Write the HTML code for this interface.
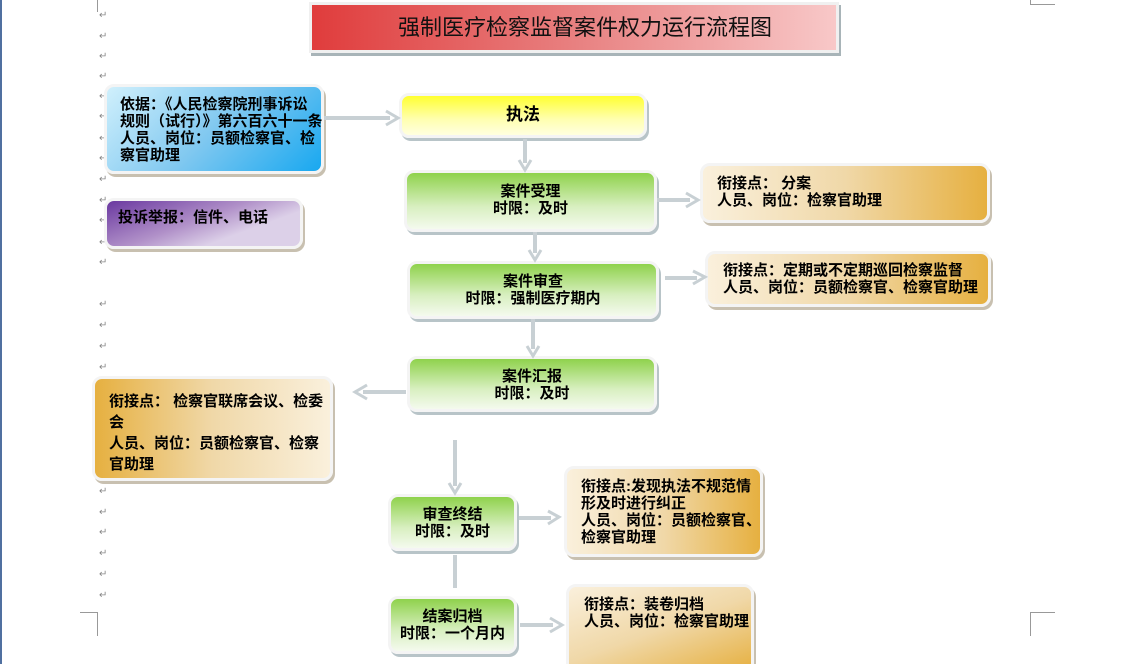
<!DOCTYPE html>
<html><head><meta charset="utf-8"><style>
html,body{margin:0;width:1125px;height:664px;overflow:hidden;}
body{background:#fff;position:relative;font-family:"Liberation Sans","Noto Sans CJK SC",sans-serif;}
.b{position:absolute;box-sizing:border-box;border:3px solid #f4f4f4;border-radius:10px;box-shadow:2px 3px 0 #c8c0b0;font-weight:bold;font-size:15px;line-height:17px;color:#000;white-space:nowrap;}
.g{background:linear-gradient(to bottom,#8fd24c,#d8efc0 60%,#f4faee);text-align:center;box-shadow:2px 3px 0 #b8c4c8;}
.t{background:linear-gradient(to right,#faf0dc,#f0d8a8 50%,#e6b040);}
.r{position:absolute;left:99px;font-size:10px;color:#888;}
</style></head><body>
<div style="position:absolute;left:0;top:0;width:2px;height:664px;background:#5070a0"></div>
<div style="position:absolute;left:97px;top:0;width:1px;height:12px;background:#999"></div>
<div style="position:absolute;left:80px;top:612px;width:17px;height:1px;background:#999"></div>
<div style="position:absolute;left:97px;top:612px;width:1px;height:24px;background:#999"></div>
<div style="position:absolute;left:1030px;top:612px;width:25px;height:1px;background:#999"></div>
<div style="position:absolute;left:1030px;top:612px;width:1px;height:24px;background:#999"></div>
<div style="position:absolute;left:1030px;top:0;width:1px;height:5px;background:#999"></div>
<div style="position:absolute;left:1030px;top:4px;width:25px;height:1px;background:#999"></div>
<div class="r" style="top:10px">↵</div><div class="r" style="top:31px">↵</div><div class="r" style="top:51px">↵</div><div class="r" style="top:71px">↵</div><div class="r" style="top:91px">↵</div><div class="r" style="top:111px">↵</div><div class="r" style="top:133px">↵</div><div class="r" style="top:153px">↵</div><div class="r" style="top:174px">↵</div><div class="r" style="top:195px">↵</div><div class="r" style="top:215px">↵</div><div class="r" style="top:237px">↵</div><div class="r" style="top:257px">↵</div><div class="r" style="top:299px">↵</div><div class="r" style="top:320px">↵</div><div class="r" style="top:341px">↵</div><div class="r" style="top:362px">↵</div><div class="r" style="top:486px">↵</div><div class="r" style="top:507px">↵</div><div class="r" style="top:527px">↵</div><div class="r" style="top:548px">↵</div><div class="r" style="top:569px">↵</div><div class="r" style="top:590px">↵</div>

<div style="position:absolute;left:309px;top:2px;width:530px;height:51px;background:linear-gradient(to right,#e03c3c,#e88080 50%,#f8c8c8);border:3px solid #f0f0f0;box-sizing:border-box;box-shadow:2px 3px 0 #a8b4b8;font-size:22px;line-height:45px;text-align:center;color:#111;padding-left:22px;">强制医疗检察监督案件权力运行流程图</div>

<div class="b" style="left:104px;top:84px;width:220px;height:90px;background:linear-gradient(135deg,#d0f0fc,#80c8f0 50%,#18a8f0);padding:9px 0 0 13px;">依据：《人民检察院刑事诉讼<br>规则（试行）》第六百六十一条<br>人员、岗位：员额检察官、检<br>察官助理</div>
<div class="b" style="left:104px;top:198px;width:199px;height:51px;background:linear-gradient(160deg,#6a38a0,#b090c8 45%,#dcd0e8 70%);padding:8px 0 0 11px;">投诉举报：信件、电话</div>

<div class="b" style="left:399px;top:93px;width:248px;height:45px;background:linear-gradient(to bottom,#ffff30,#ffffb0 60%,#ffffe0);text-align:center;font-size:17px;line-height:38px;box-shadow:2px 3px 0 #b8c4c8;">执法</div>
<div class="b g" style="left:404px;top:170px;width:253px;height:62px;padding-top:10px;">案件受理<br>时限：及时</div>
<div class="b t" style="left:700px;top:163px;width:290px;height:60px;padding:9px 0 0 14px;">衔接点： 分案<br>人员、岗位：检察官助理</div>
<div class="b g" style="left:407px;top:261px;width:252px;height:58px;padding-top:9px;">案件审查<br>时限：强制医疗期内</div>
<div class="b t" style="left:705px;top:251px;width:286px;height:56px;padding:8px 0 0 15px;">衔接点：定期或不定期巡回检察监督<br>人员、岗位：员额检察官、检察官助理</div>
<div class="b g" style="left:407px;top:356px;width:250px;height:56px;padding-top:9px;">案件汇报<br>时限：及时</div>
<div class="b t" style="left:92px;top:376px;width:241px;height:105px;background:linear-gradient(to right,#e6b040,#f0d8a8 50%,#faf0dc);padding:12px 0 0 14px;line-height:21px;">衔接点：&nbsp;检察官联席会议、检委<br>会<br>人员、岗位：员额检察官、检察<br>官助理</div>
<div class="b g" style="left:388px;top:494px;width:129px;height:57px;padding-top:9px;">审查终结<br>时限：及时</div>
<div class="b t" style="left:564px;top:466px;width:199px;height:91px;padding:9px 0 0 14px;line-height:17px;">衔接点:发现执法不规范情<br>形及时进行纠正<br>人员、岗位：员额检察官、<br>检察官助理</div>
<div class="b g" style="left:388px;top:596px;width:129px;height:58px;padding-top:9px;">结案归档<br>时限：一个月内</div>
<div class="b t" style="left:566px;top:584px;width:188px;height:90px;padding:9px 0 0 15px;background:linear-gradient(160deg,#faf0dc,#f0d8a8 50%,#e6b040);">衔接点：装卷归档<br>人员、岗位：检察官助理</div>

<svg width="1125" height="664" style="position:absolute;left:0;top:0" fill="none" stroke="#c8d0d4" stroke-width="4">
<g>
<path d="M324 118H390"/><path d="M386 111L398 118L386 125" stroke-width="3"/>
<path d="M525 139V163"/><path d="M519 160L525 170L531 160" stroke-width="3"/>
<path d="M657 200H690"/><path d="M686 193L698 200L686 207" stroke-width="3"/>
<path d="M535 232V253"/><path d="M529 250L535 260L541 250" stroke-width="3"/>
<path d="M665 278H697"/><path d="M693 271L705 277L693 284" stroke-width="3"/>
<path d="M533 319V349"/><path d="M527 346L533 356L539 346" stroke-width="3"/>
<path d="M406 392H363"/><path d="M367 385L355 392L367 399" stroke-width="3"/>
<path d="M455 440V486"/><path d="M449 483L455 493L461 483" stroke-width="3"/>
<path d="M519 518H551"/><path d="M548 511L559 517L548 524" stroke-width="3"/>
<path d="M455 555V588"/>
<path d="M520 625H553"/><path d="M550 618L562 625L550 632" stroke-width="3"/>
</g></svg>
</body></html>
